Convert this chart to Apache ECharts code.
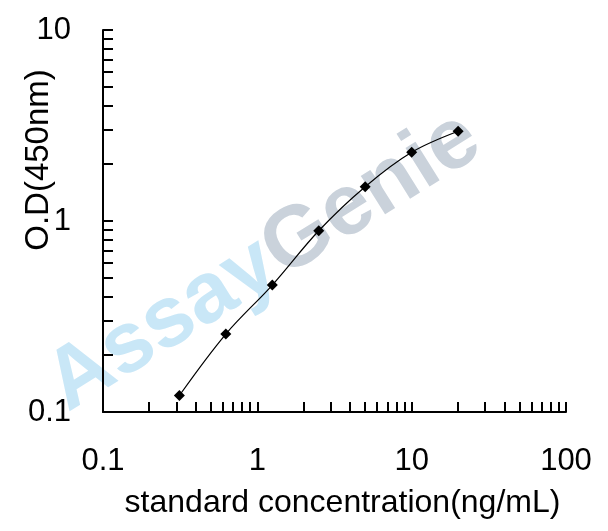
<!DOCTYPE html>
<html><head><meta charset="utf-8">
<script src="https://cdn.jsdelivr.net/npm/echarts@6/dist/echarts.min.js"></script>
<style>html,body{margin:0;padding:0;background:#fff}#c{width:608px;height:531px}</style>
</head><body><div id="c"></div>
<script>
const concentrations = [0.3125, 0.625, 1.25, 2.5, 5, 10, 20];
const odValues = [0.122, 0.256, 0.462, 0.889, 1.512, 2.289, 2.949];
const xMinorTicks = [0.2,0.3,0.4,0.5,0.6,0.7,0.8,0.9,2,3,4,5,6,7,8,9,20,30,40,50,60,70,80,90];
const yMinorTicks = [0.2,0.3,0.4,0.5,0.6,0.7,0.8,0.9,2,3,4,5,6,7,8,9];
const xTickLabels = ['0.1','1','10','100'];
const yTickLabels = ['0.1','1','10'];
const xTitle = 'standard concentration(ng/mL)';
const yTitle = 'O.D(450nm)';

const FONT = 'Liberation Sans, Arial, sans-serif';
const chart = echarts.init(document.getElementById('c'), null, {renderer: 'canvas'});
function fmt(list){ return v => { const s = String(+(+v).toPrecision(6)); return list.includes(s) ? s : ''; }; }

chart.setOption({
  backgroundColor: '#fff',
  animation: false,
  grid: {left: 103, right: 42, top: 30, bottom: 119, containLabel: false, outerBoundsMode: 'none'},
  graphic: [{
    type: 'text', x: 264, y: 262, rotation: 32 * Math.PI / 180, z: -10, silent: true,
    style: {
      text: '{a|Assay}{g|Genie}', align: 'center', verticalAlign: 'middle',
      font: 'bold 86px ' + FONT,
      rich: {
        a: {fill: '#c9e7f7', fontSize: 86, fontWeight: 'bold', fontFamily: FONT},
        g: {fill: '#cad2db', fontSize: 86, fontWeight: 'bold', fontFamily: FONT}
      }
    }
  }],
  xAxis: {
    type: 'log', logBase: 10, min: 0.1, max: 100,
    name: xTitle, nameLocation: 'middle', nameGap: 75, nameMoveOverlap: false,
    nameTextStyle: {color: '#000', fontSize: 32, fontFamily: FONT, padding: [0, 0, 0, 16]},
    axisLine: {show: true, lineStyle: {color: '#000', width: 2}},
    axisTick: {show: true, inside: true, length: 10, lineStyle: {color: '#000', width: 2}},
    minorTick: {show: false},
    splitLine: {show: false},
    axisLabel: {color: '#000', fontSize: 31, fontFamily: FONT, margin: 34, formatter: fmt(xTickLabels)}
  },
  yAxis: {
    type: 'log', logBase: 10, min: 0.1, max: 10,
    name: yTitle, nameLocation: 'middle', nameGap: 48, nameRotate: 90, nameMoveOverlap: false,
    nameTextStyle: {color: '#000', fontSize: 33, fontFamily: FONT, padding: [0, 0, 0, 122]},
    axisLine: {show: true, lineStyle: {color: '#000', width: 2}},
    axisTick: {show: true, inside: true, length: 10, lineStyle: {color: '#000', width: 2}},
    minorTick: {show: false},
    splitLine: {show: false},
    axisLabel: {color: '#000', fontSize: 31, fontFamily: FONT, margin: 32, formatter: fmt(yTickLabels)}
  },
  series: [
    {
      type: 'custom', coordinateSystem: 'cartesian2d', silent: true, z: 1, clip: false,
      data: xMinorTicks.map(v => [v, 0.1]),
      renderItem: (params, api) => {
        const p = api.coord([api.value(0), api.value(1)]);
        const x = Math.round(p[0]);
        return {type: 'line', shape: {x1: x, y1: p[1], x2: x, y2: p[1] - 10}, style: {stroke: '#000', lineWidth: 2}};
      }
    },
    {
      type: 'custom', coordinateSystem: 'cartesian2d', silent: true, z: 1, clip: false,
      data: yMinorTicks.map(v => [0.1, v]),
      renderItem: (params, api) => {
        const p = api.coord([api.value(0), api.value(1)]);
        const y = Math.round(p[1]);
        return {type: 'line', shape: {x1: p[0], y1: y, x2: p[0] + 10, y2: y}, style: {stroke: '#000', lineWidth: 2}};
      }
    },
    {
      type: 'line', z: 3,
      data: concentrations.map((c, i) => [c, odValues[i]]),
      smooth: 0.35,
      symbol: 'diamond', symbolSize: 11, showSymbol: true,
      lineStyle: {color: '#000', width: 1.2},
      itemStyle: {color: '#000'}
    }
  ]
});
</script></body></html>
